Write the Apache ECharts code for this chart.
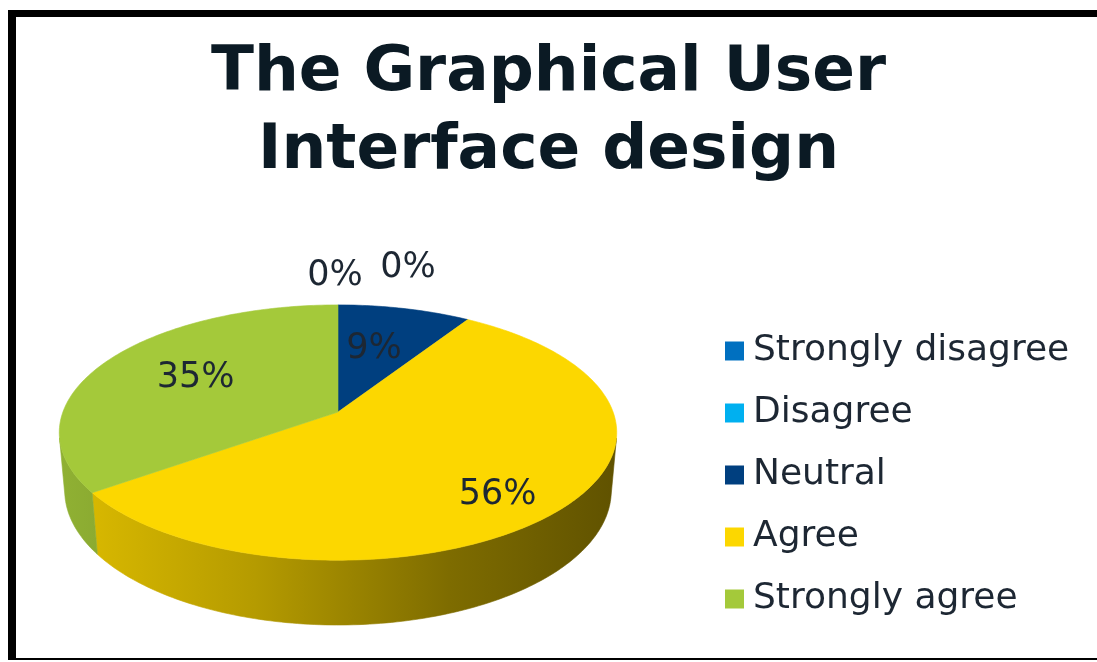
<!DOCTYPE html>
<html><head><meta charset="utf-8">
<script src="https://cdn.jsdelivr.net/npm/echarts@6/dist/echarts.min.js"></script>
<style>
html,body{margin:0;padding:0;background:#fff;}
#frame{position:absolute;left:8px;top:10px;width:1100px;height:650px;border-left:8px solid #000;border-top:7px solid #000;border-bottom:2px solid #000;box-sizing:border-box;}
#chart{position:absolute;left:0;top:0;width:1097px;height:662px;}
</style></head><body>
<div id="frame"></div><div id="chart"></div>
<script>
// ---- data ----
const titleText = 'The Graphical User\nInterface design';
const categories = ['Strongly disagree', 'Disagree', 'Neutral', 'Agree', 'Strongly agree'];
const values = [0, 0, 9, 56, 35];
const colors = ['#0070C0', '#00B0F0', '#003F7F', '#FCD700', '#A4C93A'];

// ---- layout (3D perspective pie) ----
const PIE = { cx: 338, cy: 412, f: 1524, D: 5.54, sinA: 0.452, H: 0.2385 };
PIE.cosA = Math.sqrt(1 - PIE.sinA * PIE.sinA);
const LABEL_R = 0.66;
const ZERO_LABEL_R = 1.3;
const labelOffsets = [[0, 0], [0, 0], [-10, 8], [17, 22], [12, 1]];
const zeroLabelOffsets = [[-3, -2], [70, -10]];
const labelFont = '35px "DejaVu Sans"';
const textColor = '#1d2733';

function proj(theta, r, w) {
  const u = r * Math.sin(theta), v = r * Math.cos(theta);
  const Y = v * PIE.sinA + w * PIE.cosA;
  const Z = PIE.D + v * PIE.cosA - w * PIE.sinA;
  return [PIE.cx + PIE.f * u / Z, PIE.cy - PIE.f * Y / Z];
}
const total = values.reduce((a, b) => a + b, 0);
const tVis = Math.acos(-1 / (PIE.D * PIE.cosA));
const visLo = tVis, visHi = 2 * Math.PI - tVis;
const xLeft = proj(visHi, 1, 0)[0], xRight = proj(visLo, 1, 0)[0];

function shade(hex, k) {
  const n = parseInt(hex.slice(1), 16);
  const r = Math.round(((n >> 16) & 255) * k), g = Math.round(((n >> 8) & 255) * k), b = Math.round((n & 255) * k);
  return 'rgb(' + r + ',' + g + ',' + b + ')';
}
function arcPts(a1, a2, w) {
  const pts = [];
  const n = Math.max(2, Math.ceil((a2 - a1) / (Math.PI / 180)));
  for (let k = 0; k <= n; k++) pts.push(proj(a1 + (a2 - a1) * k / n, 1, w));
  return pts;
}

function makeRender(i) {
  return function (params, api) {
    let before = 0;
    for (let j = 0; j < i; j++) before += values[j];
    const a1 = before / total * 2 * Math.PI;
    const a2 = (before + values[i]) / total * 2 * Math.PI;
    const children = [];
    const col = colors[i];
    if (values[i] > 0) {
      const lo = Math.max(a1, visLo), hi = Math.min(a2, visHi);
      if (hi > lo) {
        const top = arcPts(lo, hi, 0);
        const bot = arcPts(lo, hi, -PIE.H).reverse();
        const grad = new echarts.graphic.LinearGradient(xLeft, 0, xRight, 0, [
          { offset: 0, color: shade(col, 0.88) },
          { offset: 0.35, color: shade(col, 0.72) },
          { offset: 0.7, color: shade(col, 0.5) },
          { offset: 1, color: shade(col, 0.38) }
        ], true);
        children.push({ type: 'polygon', z2: 1, shape: { points: top.concat(bot) },
          style: { fill: grad, stroke: grad, lineWidth: 0.6 } });
      }
      const face = [proj(0, 0, 0)].concat(arcPts(a1, a2, 0));
      children.push({ type: 'polygon', z2: 10, shape: { points: face },
        style: { fill: col, stroke: col, lineWidth: 0.6 } });
      const mid = (a1 + a2) / 2;
      const p = proj(mid, LABEL_R, 0);
      const off = labelOffsets[i];
      children.push({ type: 'text', z2: 20, style: { text: values[i] + '%', x: p[0] + off[0], y: p[1] + off[1],
        textAlign: 'center', textVerticalAlign: 'middle', font: labelFont, fill: textColor } });
    } else {
      let zi = 0;
      for (let j = 0; j < i; j++) if (values[j] === 0) zi++;
      const off = zeroLabelOffsets[zi] || [0, 0];
      const p = proj(a1, ZERO_LABEL_R, 0);
      children.push({ type: 'text', z2: 20, style: { text: values[i] + '%', x: p[0] + off[0], y: p[1] + off[1],
        textAlign: 'center', textVerticalAlign: 'middle', font: labelFont, fill: textColor } });
    }
    return { type: 'group', children: children };
  };
}

const chart = echarts.init(document.getElementById('chart'), null, { renderer: 'canvas' });
chart.setOption({
  backgroundColor: 'transparent',
  animation: false,
  title: {
    text: titleText, left: 'center', top: 35, padding: [0, 9, 0, 0],
    textStyle: { fontSize: 63, fontWeight: 'bold', fontFamily: 'DejaVu Sans', color: '#0b1a24', lineHeight: 78 }
  },
  legend: {
    orient: 'vertical', left: 720, top: 326, itemWidth: 19, itemHeight: 19, itemGap: 22, icon: 'rect',
    selectedMode: false,
    textStyle: { fontSize: 36, fontFamily: 'DejaVu Sans', color: textColor, lineHeight: 40, padding: [0, 0, 0, 4] },
    data: categories
  },
  series: categories.map((name, i) => ({
    type: 'custom', name: name, coordinateSystem: 'none', silent: true,
    itemStyle: { color: colors[i] },
    data: [values[i]],
    renderItem: makeRender(i)
  }))
});
</script>
</body></html>
